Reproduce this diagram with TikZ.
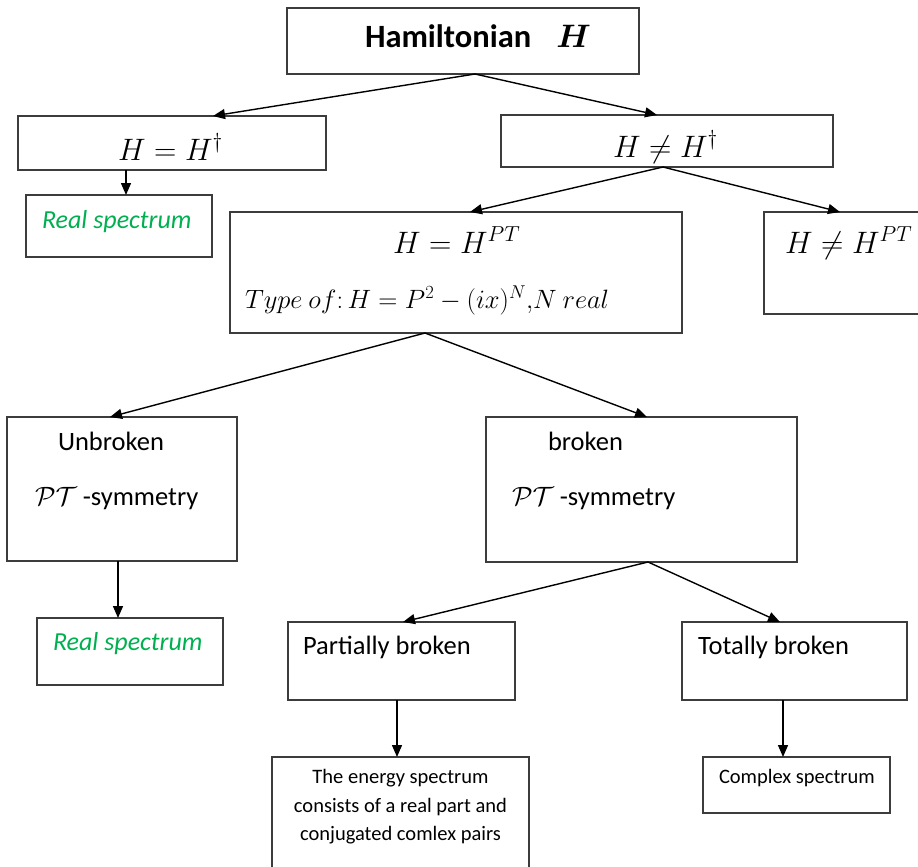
\RequirePackage{fix-cm}
\documentclass[tikz,border=0pt]{standalone}
\usepackage{fontspec}
\setmainfont{Carlito}
\usetikzlibrary{arrows.meta}
\definecolor{specgreen}{RGB}{0,176,80}
\definecolor{boxline}{RGB}{60,60,60}
\begin{document}
\begin{tikzpicture}[x=1pt,y=-1pt,
  box/.style={draw=boxline, line width=1.3pt, inner sep=0pt, outer sep=0pt},
  conn/.style={draw=black, line width=1.4pt, -{Triangle[length=12pt,width=10pt]}},
  txt/.style={inner sep=0pt, outer sep=0pt, text=black},
  bigmath/.style={txt, font=\fontsize{31}{36}\selectfont},
  smallmath/.style={txt, font=\fontsize{26.5}{31}\selectfont},
  label/.style={txt, font=\fontsize{26.5}{31}\selectfont},
  spec/.style={txt, text=specgreen, font=\fontsize{26}{31}\selectfont\itshape},
  note/.style={txt, font=\fontsize{20.5}{25}\selectfont},
]
\useasboundingbox (0,0) rectangle (918,867);
% boxes
\node[box, minimum width=352pt, minimum height=66pt] (top) at (463,41) {};
\node[box, minimum width=308pt, minimum height=54pt] (hh) at (172,143) {};
\node[box, minimum width=186pt, minimum height=62pt] (rs1) at (119,226) {};
\node[box, minimum width=332pt, minimum height=52pt] (hn) at (667,141) {};
\node[box, minimum width=452pt, minimum height=121pt] (hpt) at (456,272.5) {};
\node[box, minimum width=166pt, minimum height=102pt] (hnpt) at (847,263) {};
\node[box, minimum width=230pt, minimum height=144pt] (unb) at (122,489) {};
\node[box, minimum width=186pt, minimum height=67pt] (rs2) at (130,651.5) {};
\node[box, minimum width=311pt, minimum height=145pt] (brk) at (641.5,489.5) {};
\node[box, minimum width=227pt, minimum height=78pt] (par) at (401.5,661) {};
\node[box, minimum width=225pt, minimum height=78pt] (tot) at (794.5,661) {};
\node[box, minimum width=257pt, minimum height=123pt] (ene) at (400.5,818.5) {};
\node[box, minimum width=187pt, minimum height=56pt] (cpx) at (796.5,785) {};
% texts
\node[txt, anchor=base west, font=\fontsize{32.5}{38}\selectfont\bfseries] (tham) at (365,48) {Hamiltonian\hspace{25pt}{\boldmath$H$}};
\node[bigmath, anchor=base west] (thh) at (118,160) {$H = H^{\dagger}$};
\node[spec, anchor=base west] (trs1) at (42,228) {Real spectrum};
\node[bigmath, anchor=base west] (thn) at (613,157) {$H \neq H^{\dagger}$};
\node[bigmath, anchor=base west] (thpt) at (393,253) {$H = H^{PT}$};
\node[smallmath, anchor=base west] (ttype) at (245,308) {$Type\ of{:}\,H = P^{2} - (ix)^{N}{,}N\ real$};
\node[bigmath, anchor=base west] (thnpt) at (785,253) {$H \neq H^{PT}$};
\node[label, anchor=base west] (tunb) at (58,450) {Unbroken};
\node[label, anchor=base west] (tsym1) at (35,505) {$\mathcal{P}\mathcal{T}$ -symmetry};
\node[spec, anchor=base west] (trs2) at (53,650) {Real spectrum};
\node[label, anchor=base west] (tbrk) at (548,450) {broken};
\node[label, anchor=base west] (tsym2) at (512,505) {$\mathcal{P}\mathcal{T}$ -symmetry};
\node[label, anchor=base west] (tpar) at (303,654) {Partially broken};
\node[label, anchor=base west] (ttot) at (698,654) {Totally broken};
\node[note, anchor=base] (te1) at (400.5,783) {The energy spectrum};
\node[note, anchor=base] (te2) at (400.5,812) {consists of a real part and};
\node[note, anchor=base] (te3) at (400.5,840) {conjugated comlex pairs};
\node[note, anchor=base west] (tcpx) at (719,783) {Complex spectrum};
% connectors
\draw[conn] ([xshift=12pt]top.south) -- ([xshift=41pt]hh.north);
\draw[conn] ([xshift=12pt]top.south) -- ([xshift=-10pt]hn.north);
\draw[conn] ([xshift=-46pt]hh.south) -- ([xshift=7pt]rs1.north);
\draw[conn] ([xshift=-4pt]hn.south) -- ([xshift=14pt]hpt.north);
\draw[conn] ([xshift=-4pt]hn.south) -- ([xshift=-7pt]hnpt.north);
\draw[conn] ([xshift=-31pt]hpt.south) -- ([xshift=-12pt]unb.north);
\draw[conn] ([xshift=-31pt]hpt.south) -- ([xshift=5.5pt]brk.north);
\draw[conn] ([xshift=-4pt]unb.south) -- ([xshift=-12pt]rs2.north);
\draw[conn] ([xshift=6.5pt]brk.south) -- ([xshift=1.5pt]par.north);
\draw[conn] ([xshift=6.5pt]brk.south) -- ([xshift=-14.5pt]tot.north);
\draw[conn] ([xshift=-4.5pt]par.south) -- ([xshift=-3.5pt]ene.north);
\draw[conn] ([xshift=-11.5pt]tot.south) -- ([xshift=-13.5pt]cpx.north);
\end{tikzpicture}
\end{document}
